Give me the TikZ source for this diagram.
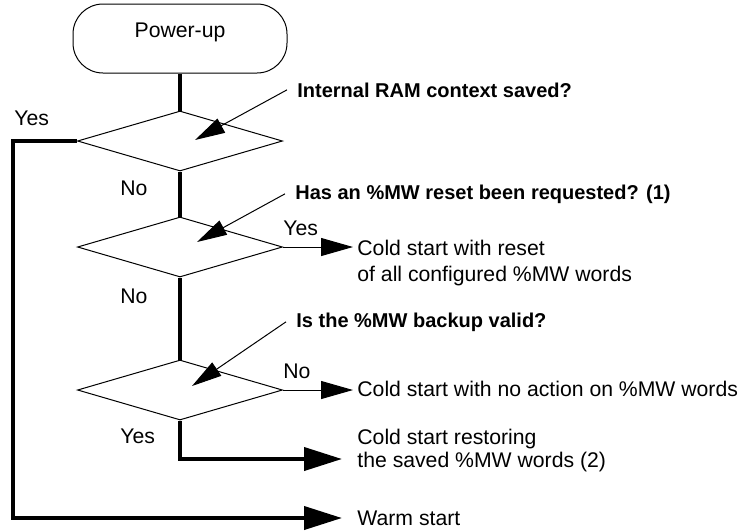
\documentclass[tikz,border=0pt]{standalone}
\usepackage{fontspec}
\setmainfont{Liberation Sans}
\usetikzlibrary{arrows.meta,calc,positioning,shapes.geometric}
\tikzset{%
	startstop/.style = {draw, rectangle, rounded corners=15pt, minimum width=107pt, minimum height=34.5pt, line width=0.5pt},
	decision/.style  = {draw, diamond, minimum width=102.5pt, minimum height=30pt, inner sep=0pt, line width=0.5pt},
	txt/.style       = {inner sep=0pt, anchor=base west, align=left},
	question/.style  = {font=\bfseries, inner xsep=5pt, inner ysep=0pt, anchor=base west},
	flow/.style      = {line width=2pt},
	flowarrow/.style = {flow, -{Triangle[length=19pt,width=11.5pt]}},
	arrow/.style     = {line width=0.5pt, -{Triangle[length=16pt,width=9pt]}},
	leader/.style    = {line width=0.5pt, -{Triangle[length=15pt,width=8pt]}},
}
\begin{document}
\begin{tikzpicture}[x=0.5pt,y=-0.5pt,font=\fontsize{10.6}{11.5}\selectfont]
	\useasboundingbox (0,0) rectangle (747,531);
	% chart
	\node [startstop, text height=7.6pt, text depth=8.2pt] (power) at (180,38.5) {Power-up};
	\node [decision] (ram) at (180,141) {};
	\node [decision] (reset) at (180,247) {};
	\node [decision] (backup) at (180,390) {};
	
	% questions
	\node [question] (qram) at (287,97) {Internal RAM context saved?};
	\node [question] (qreset) at (285,199) {Has an \%MW reset been requested? (1)};
	\node [question] (qbackup) at (286,327) {Is the \%MW backup valid?};
	
	% results
	\node [txt] (coldreset) at (357,281) {Cold start with reset\\[1.5pt]of all configured \%MW words};
	\node [txt] (coldnone) at (357,396) {Cold start with no action on \%MW words};
	\node [txt] (coldrestore) at (357,467) {Cold start restoring\\the saved \%MW words (2)};
	\node [txt] (warm) at (357,525) {Warm start};
	
	% branch labels
	\node [txt] (yesram) at (14,125) {Yes};
	\node [txt] (noram) at (120,195) {No};
	\node [txt] (yesreset) at (283,235) {Yes};
	\node [txt] (noreset) at (120,303) {No};
	\node [txt] (nobackup) at (283,378) {No};
	\node [txt] (yesbackup) at (120,443) {Yes};
	
	\coordinate (left) at (13,141);
	\coordinate (warmto) at (342,518);
	\coordinate (restoreto) at (342,459);
	\coordinate (resetto) at (353,247);
	\coordinate (noneto) at (353,390);
	
	\draw[flow] (power) -- (ram.north);
	\draw[flow] (ram.south) -- (reset.north);
	\draw[flow] (reset.south) -- (backup.north);
	\draw[flowarrow] (ram.west) -- (left) |- (warmto);
	\draw[flowarrow] (backup.south) |- (restoreto);
	\draw[arrow] (reset.east) -- (resetto);
	\draw[arrow] (backup.east) -- (noneto);
	
	\draw[leader] (qram.west) -- ($(ram)+(15,-1)$);
	\draw[leader] (qreset.west) -- ($(reset)+(17,-5)$);
	\draw[leader] (qbackup.west) -- ($(backup)+(12,-4)$);
\end{tikzpicture}
\end{document}
